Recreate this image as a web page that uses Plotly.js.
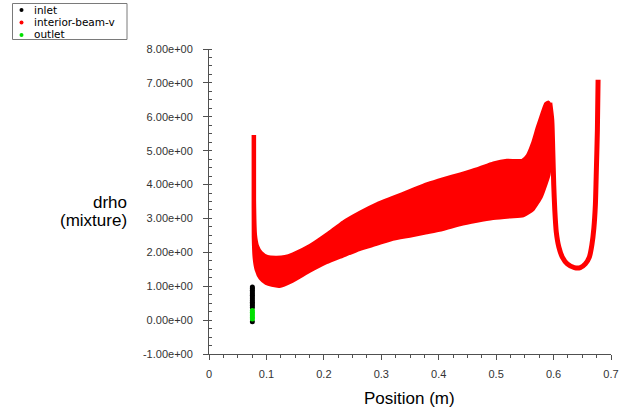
<!DOCTYPE html>
<html>
<head>
<meta charset="utf-8">
<script src="https://cdn.plot.ly/plotly-3.0.1.min.js"></script>
<style>html,body{margin:0;padding:0;background:#fff;}#chart{width:630px;height:410px;}</style>
</head>
<body>
<div id="chart"></div>
<script>
// ---- data ----
var seriesNames = ["inlet", "interior-beam-v", "outlet"];

// inlet (black)
var inletX = [0.0755,0.0755,0.0755,0.0755,0.0755,0.0755,0.0755,0.0755,0.0755,0.0755,0.0755,0.0755,0.0755,0.0755];
var inletY = [0.98,0.93,0.88,0.83,0.78,0.73,0.68,0.63,0.58,0.53,0.48,0.43,0.37,-0.05];

// outlet (green)
var outletX = [0.0755,0.0755,0.0755,0.0755,0.0755,0.0755];
var outletY = [0.28,0.23,0.18,0.13,0.08,0.03];

// interior-beam-v (red) : lower / outer envelope of the point cloud
var bandLowX = [0.0759,0.0759,0.0761,0.0777,0.0812,0.0881,0.0986,0.1091,0.1230,0.1457,0.1754,0.2051,0.2330,0.2627,0.2923,0.3203,0.3499,0.3796,0.4075,0.4372,0.4668,0.4948,0.5244,0.5476,0.5651,0.5798,0.5885,0.5930,0.5977,0.5977,0.5942,0.5910];
var bandLowY = [5.46,4.14,2.45,1.83,1.48,1.22,1.07,1.01,0.98,1.13,1.42,1.68,1.87,2.07,2.22,2.37,2.46,2.56,2.66,2.80,2.90,2.98,3.03,3.06,3.25,3.64,4.04,4.28,5.02,5.82,6.38,6.45];
// upper / inner envelope
var bandHighX = [0.0803,0.0803,0.0820,0.0855,0.0916,0.1021,0.1178,0.1318,0.1457,0.1754,0.2051,0.2330,0.2627,0.2923,0.3203,0.3499,0.3796,0.4075,0.4372,0.4668,0.4948,0.5187,0.5449,0.5536,0.5623,0.5710,0.5798,0.5855];
var bandHighY = [5.46,3.55,2.51,2.19,2.01,1.89,1.87,1.89,1.97,2.22,2.56,2.91,3.20,3.45,3.64,3.84,4.04,4.19,4.33,4.48,4.65,4.73,4.73,4.87,5.22,5.71,6.15,6.40];
// thin branch after the peak
var tailX = [0.5934,0.5969,0.5986,0.6003,0.6021,0.6047,0.6091,0.6152,0.6239,0.6361,0.6466,0.6553,0.6623,0.6667,0.6702,0.6728,0.6745,0.6763,0.6775];
var tailY = [6.41,5.91,5.02,3.99,3.25,2.60,2.16,1.86,1.66,1.55,1.55,1.66,1.86,2.22,2.72,3.40,4.43,5.61,7.09];

// axis ticks
var yTickVals = [-1,0,1,2,3,4,5,6,7,8];
var yTickText = ["-1.00e+00","0.00e+00","1.00e+00","2.00e+00","3.00e+00","4.00e+00","5.00e+00","6.00e+00","7.00e+00","8.00e+00"];
var xTickVals = [0,0.1,0.2,0.3,0.4,0.5,0.6,0.7];
var xTickText = ["0","0.1","0.2","0.3","0.4","0.5","0.6","0.7"];

// ---- drawing ----
var FONT = "Liberation Sans, Arial, sans-serif";
var LEGFONT = "DejaVu Sans, Liberation Sans, sans-serif";
var RED = "#ff0000", GREEN = "#00e000", BLACK = "#000000";
var L = 209, T = 49, W = 402, H = 305, B = T + H;
function PX(px){ return (px - L) / W; }
function PY(py){ return (B - py) / H; }

var polyX = bandLowX.concat(bandHighX.slice().reverse());
var polyY = bandLowY.concat(bandHighY.slice().reverse());

var traces = [
  {x: polyX, y: polyY, type: "scatter", mode: "lines", fill: "toself", fillcolor: RED,
   line: {color: RED, width: 2, shape: "spline", smoothing: 0.5}, name: seriesNames[1], showlegend: false, hoverinfo: "skip"},
  {x: tailX, y: tailY, type: "scatter", mode: "lines", line: {color: RED, width: 5, shape: "spline", smoothing: 0.6},
   name: seriesNames[1], showlegend: false},
  {x: inletX, y: inletY, type: "scatter", mode: "markers", marker: {color: BLACK, size: 5},
   name: seriesNames[0], showlegend: false},
  {x: outletX, y: outletY, type: "scatter", mode: "markers", marker: {color: GREEN, size: 5},
   name: seriesNames[2], showlegend: false}
];

var legendColors = [BLACK, RED, GREEN];
var legendRowsPy = [9.5, 22, 34.5];
var shapes = [{type: "rect", xref: "paper", yref: "paper",
  x0: PX(12.5), x1: PX(127), y0: PY(39.5), y1: PY(3.5),
  line: {color: "#7a7a7a", width: 1}, fillcolor: "rgba(0,0,0,0)"}];
var annotations = [];
for (var i = 0; i < seriesNames.length; i++) {
  shapes.push({type: "circle", xref: "paper", yref: "paper", xsizemode: "pixel", ysizemode: "pixel",
    xanchor: PX(21.5), yanchor: PY(legendRowsPy[i] + 0.5), x0: -2, x1: 2, y0: -2, y1: 2,
    fillcolor: legendColors[i], line: {width: 0}});
  annotations.push({xref: "paper", yref: "paper", x: PX(33), y: PY(legendRowsPy[i]),
    xanchor: "left", yanchor: "middle", showarrow: false, text: seriesNames[i],
    font: {family: LEGFONT, size: 10.5, color: "#000"}, borderpad: 0});
}
annotations.push({xref: "paper", yref: "paper", x: PX(409), y: PY(398), xanchor: "center", yanchor: "middle",
  showarrow: false, text: "Position (m)", font: {family: FONT, size: 17, color: "#000"}});
annotations.push({xref: "paper", yref: "paper", x: PX(129), y: PY(203), xanchor: "right", yanchor: "middle",
  showarrow: false, text: "drho", font: {family: FONT, size: 17, color: "#000"}});
annotations.push({xref: "paper", yref: "paper", x: PX(129), y: PY(220), xanchor: "right", yanchor: "middle",
  showarrow: false, text: "(mixture)", font: {family: FONT, size: 17, color: "#000"}});

var AX = "#505050";
var layout = {
  width: 630, height: 410,
  margin: {l: L, r: 630 - L - W, t: T, b: 410 - B, pad: 0},
  paper_bgcolor: "#fff", plot_bgcolor: "#fff",
  showlegend: false,
  font: {family: FONT, size: 11, color: "#333"},
  xaxis: {range: [0, 0.7], tickmode: "array", tickvals: xTickVals, ticktext: xTickText,
    showgrid: false, zeroline: false, showline: true, linecolor: AX, linewidth: 1,
    ticks: "outside", ticklen: 5, tickcolor: AX, tickwidth: 1, ticklabelstandoff: 5,
    tickfont: {family: FONT, size: 11, color: "#333"},
    minor: {ticks: "outside", ticklen: 3, tick0: 0, dtick: 0.025, tickcolor: AX, showgrid: false}},
  yaxis: {range: [-1, 8], tickmode: "array", tickvals: yTickVals, ticktext: yTickText,
    showgrid: false, zeroline: false, showline: true, linecolor: AX, linewidth: 1,
    ticks: "outside", ticklen: 5, tickcolor: AX, tickwidth: 1, ticklabelstandoff: 8,
    tickfont: {family: FONT, size: 11, color: "#333"},
    minor: {ticks: "inside", ticklen: 3, tick0: 0, dtick: 0.25, tickcolor: AX, showgrid: false}},
  shapes: shapes,
  annotations: annotations
};

Plotly.newPlot("chart", traces, layout, {staticPlot: true, displayModeBar: false});
</script>
</body>
</html>
